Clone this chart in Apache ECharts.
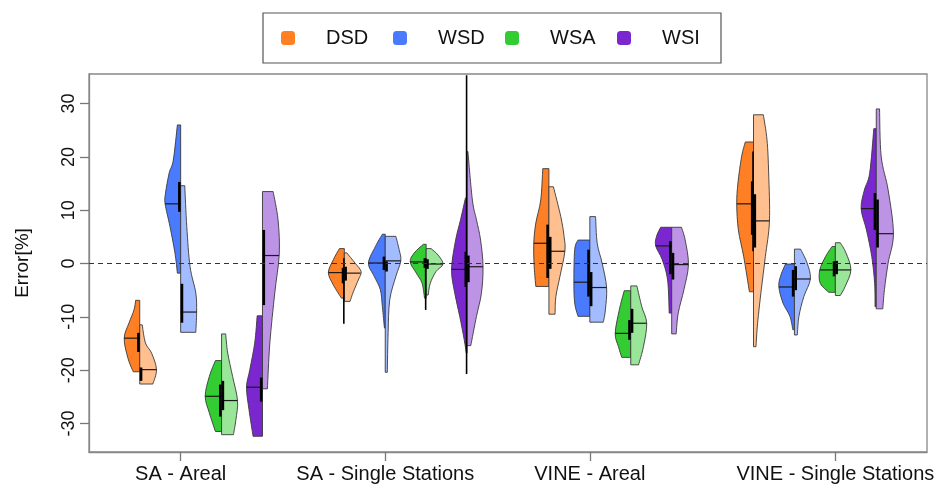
<!DOCTYPE html>
<html>
<head>
<meta charset="utf-8">
<script src="https://cdn.jsdelivr.net/npm/echarts@6/dist/echarts.min.js"></script>
<style>
html, body { margin: 0; padding: 0; background: #fff; }
#chart { width: 941px; height: 494px; }
</style>
</head>
<body>
<div id="chart"></div>
<script>
// x axis groups and where their tick sits
const groups = ['SA - Areal', 'SA - Single Stations', 'VINE - Areal', 'VINE - Single Stations'];
const groupTicks = [2, 7, 12, 18];
const methods = ['DSD', 'WSD', 'WSA', 'WSI'];
// x position of every violin, [group][method]
const violinPos = [[1, 2, 3, 4], [6, 7, 8, 9], [11, 12, 13, 14], [16, 17, 18, 19]];
const yTicks = [-30, -20, -10, 0, 10, 20, 30];

const darkColors = ['#ff7f24', '#4a7bff', '#33cc33', '#7b27cf'];
const lightColors = ['#ffbf8f', '#a3bcff', '#99e699', '#bd93e6'];

// density outline per group: [error %, half width], bottom -> top
const dsdDark = [
  [[-20.3, 0.16], [-17.7, 0.29], [-14.0, 0.38], [-11.1, 0.26], [-8.7, 0.14], [-6.9, 0.10]],
  [[-6.5, 0.07], [-4.0, 0.27], [-1.7, 0.39], [0.7, 0.27], [2.8, 0.12]],
  [[-4.3, 0.32], [-0.6, 0.36], [3.8, 0.37], [7.6, 0.32], [11.9, 0.20], [17.8, 0.15]],
  [[-5.3, 0.10], [1.3, 0.24], [6.3, 0.37], [11.2, 0.41], [15.1, 0.38], [20.1, 0.29], [22.8, 0.20]]
];
const dsdLight = [
  [[-22.6, 0.32], [-19.9, 0.41], [-16.8, 0.29], [-14.9, 0.14], [-11.5, 0.06]],
  [[-7.1, 0.14], [-5.3, 0.22], [-3.1, 0.34], [-1.5, 0.41], [0.1, 0.26], [2.0, 0.06]],
  [[-9.5, 0.15], [-6.2, 0.17], [-2.4, 0.27], [2.3, 0.39], [5.1, 0.37], [8.8, 0.29], [14.4, 0.11]],
  [[-15.6, 0.06], [-11.2, 0.10], [-4.9, 0.19], [1.3, 0.29], [8.0, 0.39], [17.0, 0.37], [23.2, 0.33], [27.9, 0.24]]
];
const wsdDark = [
  [[-1.8, 0.08], [2.0, 0.14], [6.9, 0.26], [11.2, 0.38], [13.2, 0.37], [17.0, 0.28], [19.4, 0.18], [26.0, 0.08]],
  [[-12.1, 0.02], [-8.1, 0.07], [-4.9, 0.12], [-2.4, 0.27], [0.1, 0.41], [3.2, 0.24], [5.5, 0.07]],
  [[-9.9, 0.29], [-7.4, 0.37], [-3.5, 0.39], [2.6, 0.37], [4.4, 0.29]],
  [[-12.4, 0.04], [-9.9, 0.11], [-7.4, 0.28], [-4.4, 0.38], [-2.4, 0.34], [-0.1, 0.22]]
];
const wsdLight = [
  [[-12.9, 0.37], [-9.1, 0.39], [-5.5, 0.37], [-0.6, 0.23], [6.9, 0.15], [14.6, 0.10]],
  [[-20.4, 0.05], [-13.0, 0.07], [-6.8, 0.11], [-2.4, 0.26], [0.5, 0.38], [2.6, 0.34], [5.1, 0.26]],
  [[-11.0, 0.33], [-8.7, 0.38], [-4.5, 0.41], [0.1, 0.30], [3.8, 0.18], [8.8, 0.14]],
  [[-13.4, 0.07], [-9.9, 0.11], [-6.2, 0.23], [-2.9, 0.39], [0.1, 0.31], [2.7, 0.15]]
];
const wsaDark = [
  [[-31.5, 0.15], [-28.0, 0.30], [-24.9, 0.40], [-21.2, 0.30], [-18.2, 0.15]],
  [[-6.5, 0.04], [-3.7, 0.10], [-1.8, 0.24], [0.3, 0.39], [2.0, 0.29], [3.6, 0.07]],
  [[-17.6, 0.22], [-15.6, 0.30], [-13.1, 0.38], [-8.7, 0.28], [-5.1, 0.16]],
  [[-5.4, 0.16], [-3.7, 0.37], [-1.2, 0.38], [1.3, 0.24], [3.2, 0.08]]
];
const wsaLight = [
  [[-32.1, 0.29], [-29.3, 0.35], [-25.7, 0.39], [-21.2, 0.27], [-16.8, 0.15], [-13.2, 0.10]],
  [[-5.9, 0.05], [-3.7, 0.10], [-1.5, 0.24], [-0.1, 0.41], [1.6, 0.29], [2.8, 0.12]],
  [[-19.0, 0.19], [-15.6, 0.31], [-11.2, 0.39], [-8.1, 0.27], [-4.2, 0.15]],
  [[-6.0, 0.12], [-4.3, 0.24], [-1.2, 0.38], [2.0, 0.26], [3.9, 0.12]]
];
const wsiDark = [
  [[-32.4, 0.23], [-27.4, 0.33], [-23.2, 0.39], [-19.9, 0.31], [-14.9, 0.19], [-9.8, 0.13]],
  [[-16.8, 0.02], [-14.3, 0.07], [-9.9, 0.18], [-5.6, 0.30], [-1.1, 0.38], [4.4, 0.28], [8.2, 0.16], [12.3, 0.04]],
  [[-9.3, 0.06], [-3.1, 0.10], [0.7, 0.23], [3.3, 0.39], [5.1, 0.37], [6.8, 0.27]],
  [[-8.1, 0.03], [-3.7, 0.04], [1.3, 0.11], [6.3, 0.24], [10.3, 0.37], [13.8, 0.29], [17.0, 0.16], [25.3, 0.06]]
];
const wsiLight = [
  [[-23.5, 0.12], [-14.9, 0.18], [-5.5, 0.30], [1.8, 0.41], [8.2, 0.38], [13.5, 0.26]],
  [[-15.4, 0.09], [-9.9, 0.23], [-5.6, 0.35], [-0.6, 0.39], [4.4, 0.33], [8.2, 0.23], [11.9, 0.13], [21.0, 0.02]],
  [[-13.2, 0.11], [-9.3, 0.16], [-4.9, 0.30], [-0.2, 0.41], [4.4, 0.33], [6.8, 0.24]],
  [[-8.5, 0.16], [-4.9, 0.20], [0.1, 0.29], [5.6, 0.42], [13.8, 0.29], [20.1, 0.12], [29.0, 0.08]]
];

// medians per group: [dark half, light half]
const dsdMedian = [[-14.0, -19.9], [-1.7, -1.8], [3.8, 2.3], [11.2, 8.0]];
const wsdMedian = [[11.2, -9.1], [0.1, 0.5], [-3.5, -4.5], [-4.4, -2.9]];
const wsaMedian = [[-24.9, -25.7], [0.3, -0.1], [-13.1, -11.2], [-1.2, -1.2]];
const wsiMedian = [[-23.2, 1.5], [-1.1, -0.6], [3.3, -0.2], [10.3, 5.6]];

// interquartile boxes per group: [[dark lo, hi], [light lo, hi]]
const dsdBox = [[[-16.6, -13.0], [-22.0, -19.5]], [[-3.7, -0.8], [-3.2, -0.6]], [[-2.7, 7.3], [-1.0, 5.0]], [[5.4, 15.4], [3.0, 13.0]]];
const wsdBox = [[[9.7, 15.3], [-11.1, -3.8]], [[-1.2, 1.3], [-1.5, 0.4]], [[-6.2, 2.6], [-8.0, -1.6]], [[-6.2, -1.2], [-5.0, -0.5]]];
const wsaBox = [[[-28.7, -22.7], [-27.5, -22.0]], [[-0.8, 1.0], [-1.0, 0.8]], [[-14.3, -10.6], [-13.0, -8.5]], [[-2.4, 0.4], [-2.0, 0.5]]];
const wsiBox = [[[-25.9, -21.4], [-7.8, 6.3]], [[-4.4, 2.2], [-3.5, 1.5]], [[-2.0, 4.2], [-3.0, 2.0]], [[6.3, 13.2], [3.0, 12.0]]];

// whiskers that stick out past the violin, per group (null = hidden)
const dsdWhisker = [null, [-11.3, 1.0], null, [2.3, 21.0]];
const wsdWhisker = [null, null, null, null];
const wsaWhisker = [null, [-8.7, 1.0], null, null];
const wsiWhisker = [null, [-20.7, 35.3], null, null];

const darkProfiles = [dsdDark, wsdDark, wsaDark, wsiDark];
const lightProfiles = [dsdLight, wsdLight, wsaLight, wsiLight];
const medians = [dsdMedian, wsdMedian, wsaMedian, wsiMedian];
const boxes = [dsdBox, wsdBox, wsaBox, wsiBox];
const whiskers = [dsdWhisker, wsdWhisker, wsaWhisker, wsiWhisker];

function widthAt(prof, y) {
  for (let i = 0; i < prof.length - 1; i++) {
    const a = prof[i], b = prof[i + 1];
    if (y >= a[0] && y <= b[0]) return a[1] + (b[1] - a[1]) * (y - a[0]) / (b[0] - a[0]);
  }
  return 0;
}

// smooth outline through the profile points, closed along the split line
function halfPath(api, x, prof, side) {
  const pts = prof.map(p => api.coord([x + side * p[1], p[0]]));
  const b0 = api.coord([x, prof[0][0]]);
  const b1 = api.coord([x, prof[prof.length - 1][0]]);
  let d = 'M' + b0 + 'L' + pts[0];
  for (let i = 0; i < pts.length - 1; i++) {
    const p0 = pts[Math.max(i - 1, 0)], p1 = pts[i], p2 = pts[i + 1], p3 = pts[Math.min(i + 2, pts.length - 1)];
    const c1 = [p1[0] + (p2[0] - p0[0]) / 6, p1[1] + (p2[1] - p0[1]) / 6];
    const c2 = [p2[0] - (p3[0] - p1[0]) / 6, p2[1] - (p3[1] - p1[1]) / 6];
    d += 'C' + c1 + ' ' + c2 + ' ' + p2;
  }
  d += 'L' + b1 + 'Z';
  return d;
}

function makeSeries(m) {
  return {
    name: methods[m],
    type: 'custom',
    coordinateSystem: 'cartesian2d',
    itemStyle: { color: darkColors[m] },
    data: violinPos.map((row, g) => [row[m], medians[m][g][0]]),
    renderItem: function (params, api) {
      const g = params.dataIndex;
      const x = violinPos[g][m];
      const children = [];
      const halves = [
        [darkProfiles[m][g], -1, darkColors[m]],
        [lightProfiles[m][g], 1, lightColors[m]]
      ];
      halves.forEach(function (h) {
        children.push({
          type: 'path',
          shape: { pathData: halfPath(api, x, h[0], h[1]) },
          style: { fill: h[2], stroke: '#3a3a3a', lineWidth: 0.9 }
        });
      });
      halves.forEach(function (h, k) {
        const med = medians[m][g][k];
        const p0 = api.coord([x, med]);
        const p1 = api.coord([x + h[1] * widthAt(h[0], med), med]);
        children.push({
          type: 'line',
          shape: { x1: p0[0], y1: p0[1], x2: p1[0], y2: p1[1] },
          style: { stroke: '#1a1a1a', lineWidth: 1.2 }
        });
      });
      const wk = whiskers[m][g];
      if (wk) {
        const a = api.coord([x, wk[0]]), b = api.coord([x, wk[1]]);
        children.push({
          type: 'line',
          shape: { x1: a[0] - 0.5, y1: a[1], x2: b[0] - 0.5, y2: b[1] },
          style: { stroke: '#000', lineWidth: 1.6 }
        });
      }
      halves.forEach(function (h, k) {
        const bx = boxes[m][g][k];
        const a = api.coord([x, bx[0]]), b = api.coord([x, bx[1]]);
        const off = h[1] * 1.3;
        children.push({
          type: 'line',
          shape: { x1: a[0] + off, y1: a[1], x2: b[0] + off, y2: b[1] },
          style: { stroke: '#000', lineWidth: 2.6 }
        });
      });
      return { type: 'group', children: children };
    }
  };
}

const chart = echarts.init(document.getElementById('chart'));
const series = methods.map((n, m) => makeSeries(m));
series.push({
  type: 'line',
  data: [],
  z: 5,
  silent: true,
  markLine: {
    symbol: 'none',
    silent: true,
    label: { show: false },
    lineStyle: { color: '#333', type: [5, 4], width: 1.2 },
    data: [{ yAxis: 0 }]
  }
});

chart.setOption({
  animation: false,
  textStyle: { fontFamily: 'Liberation Sans, Arial, sans-serif' },
  legend: {
    data: methods,
    left: 263,
    top: 13,
    orient: 'horizontal',
    icon: 'roundRect',
    itemWidth: 14,
    itemHeight: 14,
    itemGap: 10,
    padding: [15, 2, 15, 18],
    borderColor: '#555',
    borderWidth: 1.2,
    textStyle: { fontSize: 20, color: '#111', width: 57, lineHeight: 20, padding: [0, 0, 0, 26] }
  },
  grid: {
    left: 89, right: 14, top: 74, bottom: 42,
    show: true, borderColor: '#888', borderWidth: 1.3, containLabel: false
  },
  xAxis: {
    type: 'value',
    min: -0.24,
    max: 20.24,
    axisLine: { onZero: false, lineStyle: { color: '#888', width: 1.3 } },
    axisTick: { customValues: groupTicks, length: 9, lineStyle: { color: '#777', width: 1.3 } },
    axisLabel: {
      customValues: groupTicks,
      margin: 12,
      fontSize: 20,
      color: '#111',
      formatter: v => groups[groupTicks.indexOf(v)]
    },
    splitLine: { show: false }
  },
  yAxis: {
    type: 'value',
    min: -35.35,
    max: 35.55,
    name: 'Error[%]',
    nameLocation: 'middle',
    nameRotate: 90,
    nameGap: 57,
    nameTextStyle: { fontSize: 19, color: '#111' },
    axisLine: { show: true, onZero: false, lineStyle: { color: '#888', width: 1.3 } },
    axisTick: { show: true, customValues: yTicks, length: 9, lineStyle: { color: '#777', width: 1.3 } },
    axisLabel: { customValues: yTicks, rotate: 90, margin: 11, fontSize: 18, color: '#111' },
    splitLine: { show: false }
  },
  series: series
});
</script>
</body>
</html>
